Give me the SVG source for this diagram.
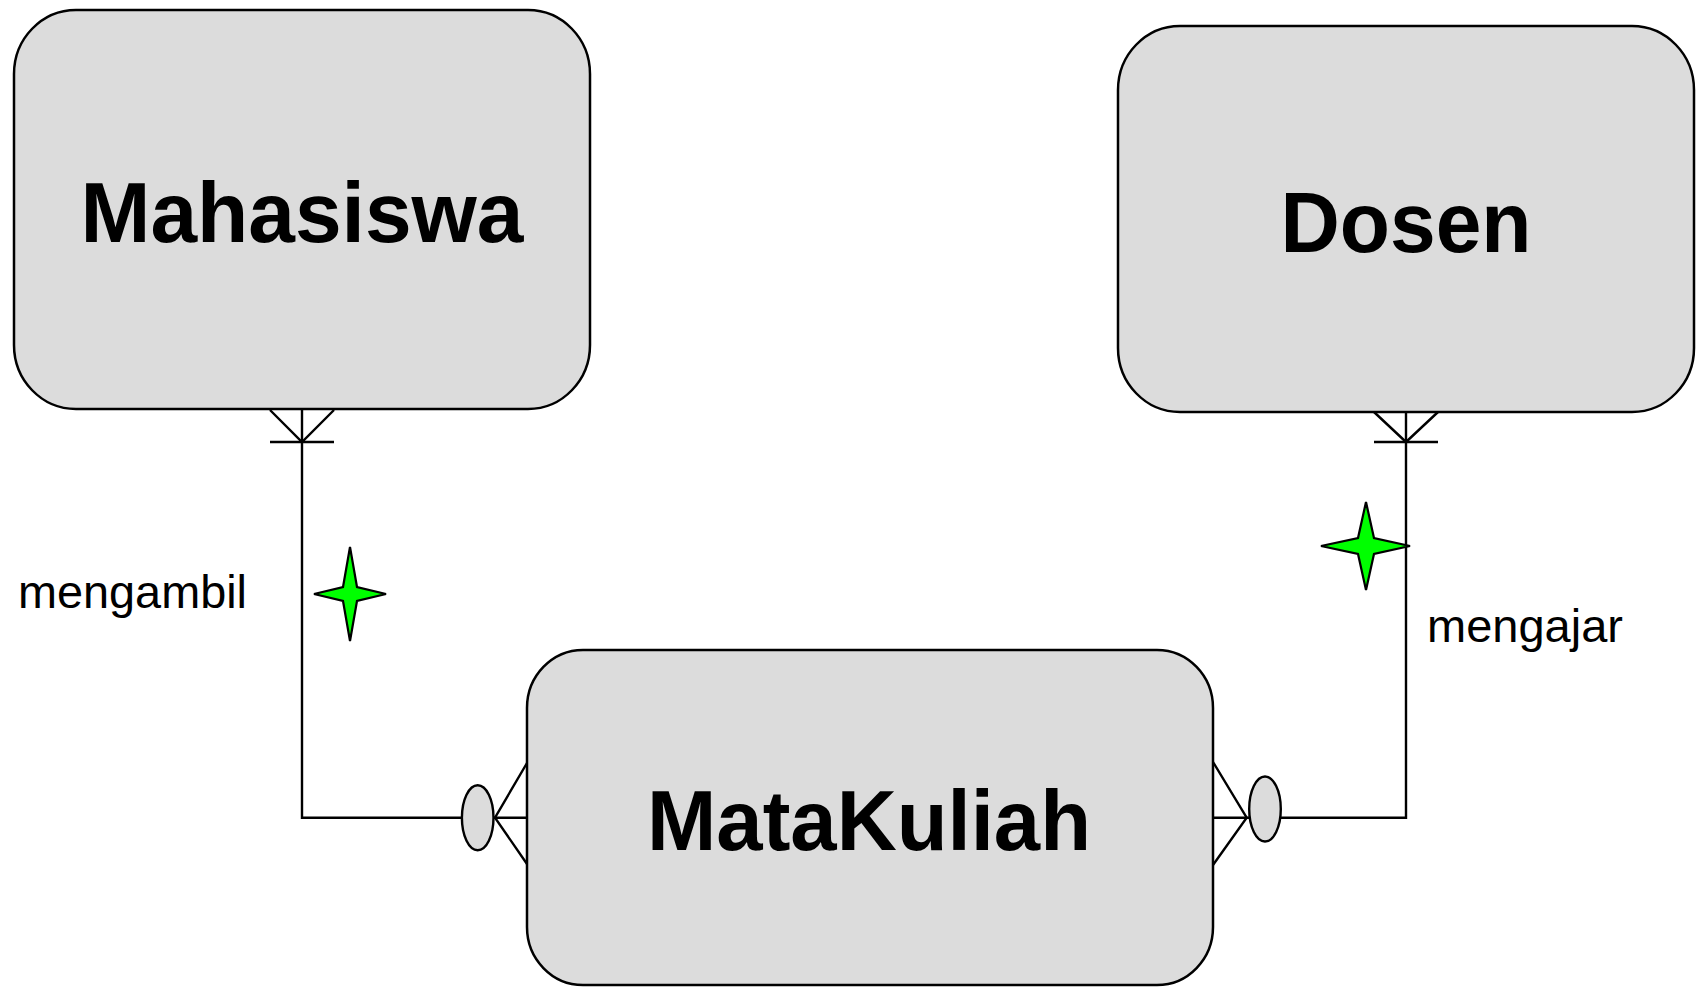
<svg xmlns="http://www.w3.org/2000/svg" width="1697" height="988" viewBox="0 0 1697 988">
<style>
.box{fill:#dcdcdc;stroke:#000;stroke-width:2.5}
.title{font-family:"Liberation Sans",Arial,Helvetica,sans-serif;font-weight:bold;font-size:86px;fill:#000;text-anchor:middle}
.lbl{font-family:"Liberation Sans",Arial,Helvetica,sans-serif;font-size:47px;fill:#000}
.ln{fill:none;stroke:#000;stroke-width:2.4}
.oval{fill:#dcdcdc;stroke:#000;stroke-width:2.4}
.star{fill:#00ff00;stroke:#000;stroke-width:2.2;stroke-linejoin:miter}
</style>
<rect width="1697" height="988" fill="#fff"/>
<g id="connectors">
  <g id="mengambil-conn">
    <polyline class="ln" points="302,410 302,817.7 462,817.7"/>
    <line class="ln" x1="270" y1="442" x2="334" y2="442"/>
    <polyline class="ln" points="270,410 302,442 334,410"/>
    <line class="ln" x1="493.5" y1="817.7" x2="527" y2="817.7"/>
    <polyline class="ln" points="527,763 495,817.7 527,864"/>
    <ellipse class="oval" cx="477.7" cy="817.7" rx="15.8" ry="32.5"/>
    <polygon class="star" points="350,547 357,587 386,594 357,601 350,641 343,601 314,594 343,587"/>
    <text class="lbl" x="18" y="608" textLength="229" lengthAdjust="spacingAndGlyphs">mengambil</text>
  </g>
  <g id="mengajar-conn">
    <polyline class="ln" points="1406,412 1406,817.7 1281,817.7"/>
    <line class="ln" x1="1374" y1="442" x2="1438" y2="442"/>
    <polyline class="ln" points="1374,412 1406,442 1438,412"/>
    <line class="ln" x1="1213" y1="817.7" x2="1249" y2="817.7"/>
    <polyline class="ln" points="1213,762 1246.7,817.7 1213,865"/>
    <ellipse class="oval" cx="1265" cy="809" rx="15.8" ry="32.5"/>
    <polygon class="star" points="1366,502 1374,538 1410,546 1374,554 1366,590 1358,554 1321,546 1358,538"/>
    <text class="lbl" x="1427" y="642" textLength="196" lengthAdjust="spacingAndGlyphs">mengajar</text>
  </g>
</g>
<g id="Mahasiswa">
  <rect class="box" x="14" y="10" width="576" height="399" rx="62" ry="64"/>
  <text class="title" x="302" y="242" textLength="443" lengthAdjust="spacingAndGlyphs">Mahasiswa</text>
</g>
<g id="Dosen">
  <rect class="box" x="1118" y="26" width="576" height="386" rx="62" ry="64"/>
  <text class="title" x="1406" y="252" textLength="251" lengthAdjust="spacingAndGlyphs">Dosen</text>
</g>
<g id="MataKuliah">
  <rect class="box" x="527" y="650" width="686" height="335" rx="56" ry="58"/>
  <text class="title" x="869" y="850" textLength="444" lengthAdjust="spacingAndGlyphs">MataKuliah</text>
</g>
</svg>
